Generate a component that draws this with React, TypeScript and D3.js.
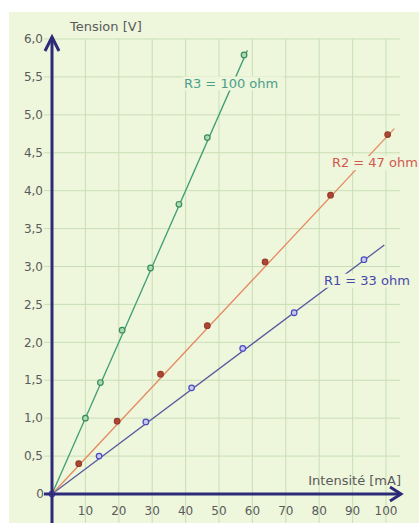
import React from "react";
import * as d3 from "d3";

const W = 419;
const H = 523;

const xTicks = [10, 20, 30, 40, 50, 60, 70, 80, 90, 100];
const yTicks = [0.5, 1, 1.5, 2, 2.5, 3, 3.5, 4, 4.5, 5, 5.5, 6];
const yTickLabels = ["0,5", "1,0", "1,5", "2,0", "2,5", "3,0", "3,5", "4,0", "4,5", "5,0", "5,5", "6,0"];

const seriesNames = ["R1 = 33 ohm", "R2 = 47 ohm", "R3 = 100 ohm"];
const resistances = [33, 47, 100];
const lineEndCurrent = [99.5, 102.5, 58.5];

const r1Current = [0, 14.1, 28.1, 41.8, 57.1, 72.5, 93.4];
const r1Voltage = [0, 0.5, 0.95, 1.4, 1.92, 2.39, 3.09];
const r2Current = [8, 19.5, 32.5, 46.5, 63.8, 83.4, 100.5];
const r2Voltage = [0.4, 0.96, 1.58, 2.22, 3.06, 3.94, 4.74];
const r3Current = [10, 14.5, 21, 29.5, 38, 46.5, 57.5];
const r3Voltage = [1.0, 1.47, 2.16, 2.98, 3.82, 4.7, 5.79];

const labelCurrent = [81.4, 83.8, 39.5];
const labelVoltage = [2.76, 4.31, 5.36];

const lineColors = ["#5a5a9e", "#e58a60", "#3f9e72"];
const pointStroke = ["#4a4ac0", "#9a3a2a", "#3a8a5a"];
const pointFill = ["#c8c8f0", "#a84a35", "#a8dcb0"];
const labelColors = ["#4848a8", "#d05a50", "#4aa08a"];

const BG = "#eef6dc";
const GRID = "#c9dfb6";
const AXIS = "#2d2b78";
const TEXT = "#5a5a5a";
const FONT = "'DejaVu Sans', Verdana, sans-serif";

export default function App() {
  const x = d3.scaleLinear().domain([0, 100]).range([52, 386]);
  const y = d3.scaleLinear().domain([0, 6]).range([494, 39]);

  const series = [
    { cur: r1Current, vol: r1Voltage },
    { cur: r2Current, vol: r2Voltage },
    { cur: r3Current, vol: r3Voltage },
  ];

  const line = d3
    .line<[number, number]>()
    .x((d) => x(d[0]))
    .y((d) => y(d[1]));

  const labelW = [88, 90, 100];

  return (
    <svg
      width={W}
      height={H}
      style={{ position: "absolute", left: 0, top: 0, display: "block" }}
      fontFamily={FONT}
    >
      <rect x={0} y={0} width={W} height={H} fill="#ffffff" />
      <rect x={9} y={12} width={W - 9} height={H - 12} fill={BG} />

      {/* vertical grid */}
      {xTicks.map((t) => (
        <line key={"vg" + t} x1={x(t)} x2={x(t)} y1={y(6)} y2={H} stroke={GRID} strokeWidth={1} />
      ))}
      {/* horizontal grid */}
      {yTicks.map((t) => (
        <line key={"hg" + t} x1={44} x2={400} y1={y(t)} y2={y(t)} stroke={GRID} strokeWidth={1} />
      ))}

      {/* y tick labels */}
      {yTicks.map((t, i) => (
        <text
          key={"yl" + t}
          x={43}
          y={y(t)}
          dy="0.35em"
          textAnchor="end"
          fontSize={12}
          fill={TEXT}
        >
          {yTickLabels[i]}
        </text>
      ))}
      <text x={44} y={y(0)} dy="0.35em" textAnchor="end" fontSize={12} fill={TEXT}>
        0
      </text>

      {/* x tick labels */}
      {xTicks.map((t) => (
        <text key={"xl" + t} x={x(t)} y={515} textAnchor="middle" fontSize={12} fill={TEXT}>
          {t}
        </text>
      ))}

      {/* fit lines */}
      {resistances.map((r, i) => (
        <path
          key={"fit" + i}
          d={line([
            [0, 0],
            [lineEndCurrent[i], (lineEndCurrent[i] * r) / 1000],
          ]) as string}
          stroke={lineColors[i]}
          strokeWidth={1.3}
          fill="none"
        />
      ))}

      {/* points */}
      {series.map((s, i) =>
        s.cur.map((c, j) => (
          <circle
            key={"p" + i + "_" + j}
            cx={x(c)}
            cy={y(s.vol[j])}
            r={2.8}
            fill={pointFill[i]}
            stroke={pointStroke[i]}
            strokeWidth={1.2}
          />
        ))
      )}

      {/* series labels */}
      {seriesNames.map((n, i) => (
        <g key={"lab" + i}>
          <rect
            x={x(labelCurrent[i]) - 1}
            y={y(labelVoltage[i]) - 11}
            width={labelW[i]}
            height={14}
            fill={BG}
          />
          <text x={x(labelCurrent[i])} y={y(labelVoltage[i])} fontSize={13} fill={labelColors[i]}>
            {n}
          </text>
        </g>
      ))}

      {/* axes */}
      <line x1={x(0)} x2={x(0)} y1={H} y2={37} stroke={AXIS} strokeWidth={3} />
      <line x1={44} x2={400} y1={y(0)} y2={y(0)} stroke={AXIS} strokeWidth={3} />
      <polyline
        points={`${x(0) - 7},51 ${x(0)},37 ${x(0) + 7},51`}
        fill="none"
        stroke={AXIS}
        strokeWidth={3}
      />
      <polyline
        points={`390,${y(0) - 7} 401,${y(0)} 390,${y(0) + 7}`}
        fill="none"
        stroke={AXIS}
        strokeWidth={3}
      />

      {/* axis titles */}
      <text x={70} y={31} fontSize={13} fill={TEXT}>
        Tension [V]
      </text>
      <text x={401} y={485} textAnchor="end" fontSize={13} fill={TEXT}>
        Intensité [mA]
      </text>
    </svg>
  );
}
